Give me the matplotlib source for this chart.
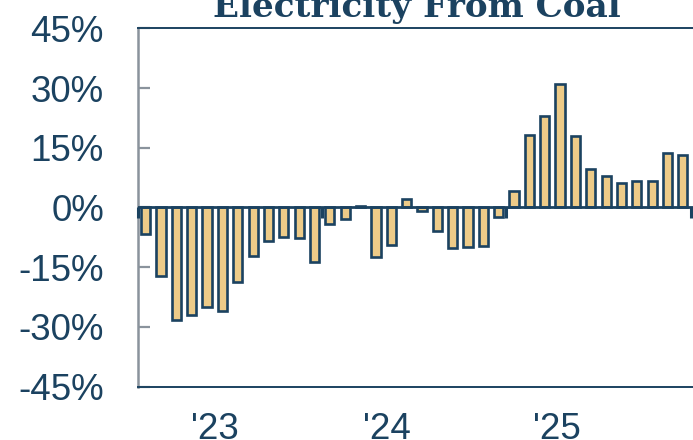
import numpy as np
import matplotlib.pyplot as plt

# monthly year-over-year change in coal-fired generation (%)
months = [f"{y}-{m:02d}" for y in (2023, 2024, 2025) for m in range(1, 13)]
growth = [-6.6, -17.1, -28.2, -27.0, -25.1, -26.0, -18.8, -12.3, -8.3, -7.5, -7.6, -13.7,
          -4.2, -2.8, 0.3, -12.5, -9.4, 2.1, -0.8, -6.0, -10.2, -9.9, -9.7, -2.3,
          4.2, 18.2, 23.1, 31.0, 18.0, 9.7, 7.9, 6.1, 6.7, 6.7, 13.8, 13.2]
year_labels = ["'23", "'24", "'25"]
year_label_pos = [4.5, 15.7, 26.8]
y_ticks = [-45, -30, -15, 0, 15, 30, 45]

NAVY = '#1B4260'
TAN = '#EDCB88'
GREY = '#8A939C'

fig = plt.figure(figsize=(6.93, 4.40), dpi=100)
ax = fig.add_axes([138 / 693, 1 - 386.7 / 440, 1 - 138 / 693, (386.7 - 28.3) / 440])

x = np.arange(len(growth))
ax.bar(x, growth, width=0.6, color=TAN, edgecolor=NAVY, linewidth=1.9, zorder=2)

# zero line with small ticks at the year boundaries
ax.axhline(0, color=NAVY, linewidth=2, zorder=3)
bounds = np.arange(-0.5, len(growth) + 0.5, 12)
ax.vlines(bounds, -2.6, 0, color=NAVY, linewidth=2.2, zorder=3, clip_on=False)

ax.set_xlim(-0.5, 35.66)
ax.set_ylim(-45, 45)

ax.set_yticks(y_ticks)
ax.set_yticklabels([f"{v}%" for v in y_ticks])
ax.tick_params(axis='y', direction='in', length=8.6, width=1.6, color=GREY,
               pad=24.5, labelsize=26.5, labelcolor=NAVY)
for lab in ax.get_yticklabels():
    lab.set_fontfamily('Liberation Sans')

ax.set_xticks(year_label_pos)
ax.set_xticklabels(year_labels)
ax.tick_params(axis='x', length=0, pad=18, labelsize=26.5, labelcolor=NAVY)
for lab in ax.get_xticklabels():
    lab.set_fontfamily('Liberation Sans')

ax.spines['right'].set_visible(False)
ax.spines['left'].set_color(GREY)
ax.spines['left'].set_linewidth(1.8)
for side in ('top', 'bottom'):
    ax.spines[side].set_color(NAVY)
    ax.spines[side].set_linewidth(1.4)

fig.text(416.5 / 693, 1 - 17 / 440, 'Electricity From Coal', ha='center', va='baseline',
         fontfamily='DejaVu Serif', fontweight='heavy', fontsize=24.7, color=NAVY)

fig.savefig('out.png', dpi=100)
